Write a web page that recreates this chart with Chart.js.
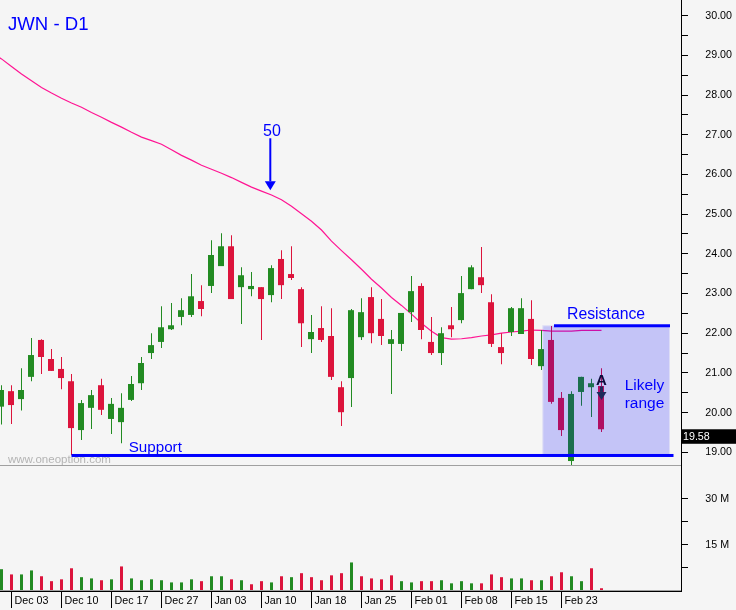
<!DOCTYPE html>
<html lang="en">
<head>
    <meta charset="UTF-8">
    <title>JWN - D1</title>
    <script src="https://cdn.jsdelivr.net/npm/chart.js"></script>
    <style>
        html, body { margin: 0; padding: 0; background: #f5f5f5; }
        canvas { display: block; }
    </style>
</head>
<body>
<canvas id="priceChart" width="736" height="610"></canvas>

<script>
    const opens = [20.15, 20.54, 20.34, 20.90, 21.83, 21.35, 21.10, 20.79, 19.56, 20.12, 20.69, 19.84, 19.76, 20.32, 20.74, 21.50, 21.78, 22.10, 22.41, 22.46, 22.81,
        23.19, 23.69, 24.19, 23.16, 23.11, 23.16, 22.96, 23.87, 23.49, 23.11, 21.85, 22.13, 21.93, 20.64, 20.87, 21.90, 22.91, 22.36, 21.73,
        21.73, 22.53, 23.19, 21.78, 21.50, 22.20, 22.33, 23.11, 23.41, 22.78, 21.65, 22.03, 21.98, 22.36, 21.17, 21.83, 20.37, 18.78, 20.52, 20.64, 20.67];
    const highs = [20.69, 20.69, 21.12, 21.88, 21.85, 21.60, 21.40, 20.97, 20.32, 20.57, 20.85, 20.37, 20.49, 20.92, 21.40, 22.00, 22.68, 22.76, 22.88, 23.49, 23.21,
        24.34, 24.52, 24.47, 23.66, 23.54, 23.16, 23.71, 24.09, 24.19, 23.16, 22.46, 22.68, 22.63, 20.79, 22.61, 22.88, 23.16, 22.86, 22.08,
        22.51, 23.44, 23.26, 22.41, 22.15, 22.66, 23.44, 23.71, 24.17, 22.98, 22.00, 22.66, 22.88, 22.83, 22.08, 22.18, 20.52, 20.54, 20.90, 20.85, 21.12];
    const lows = [19.70, 19.71, 20.05, 20.79, 20.97, 21.05, 20.59, 18.93, 19.31, 19.59, 19.94, 19.46, 19.23, 20.29, 20.57, 21.35, 21.63, 22.08, 22.20, 22.41, 22.43,
        23.01, 23.69, 22.86, 22.23, 22.93, 21.83, 22.78, 22.86, 23.34, 21.65, 21.50, 21.78, 20.82, 19.66, 20.14, 21.83, 21.75, 21.70, 20.47,
        21.55, 22.28, 21.85, 21.45, 21.20, 21.90, 22.25, 23.11, 23.01, 21.65, 21.22, 21.93, 21.98, 21.20, 21.07, 20.22, 19.41, 18.66, 20.17, 19.89, 19.51];
    const closes = [20.57, 20.19, 20.57, 21.45, 21.40, 21.05, 20.87, 19.61, 20.24, 20.44, 20.07, 20.22, 20.12, 20.72, 21.25, 21.70, 22.15, 22.20, 22.58, 22.93, 22.61,
        23.97, 24.19, 22.86, 23.46, 23.19, 22.86, 23.64, 23.21, 23.39, 22.25, 22.03, 21.83, 20.90, 20.01, 22.58, 22.53, 22.00, 21.93, 21.85,
        22.51, 23.06, 22.08, 21.50, 22.00, 22.10, 23.01, 23.66, 23.21, 21.73, 21.50, 22.63, 22.63, 21.35, 21.60, 20.27, 19.56, 20.47, 20.90, 20.74, 19.58];

    // first value sits one bar left of the first candle, so the line runs off the edge
    const ma50 = [29.07, 28.91, 28.72, 28.53, 28.36, 28.19, 28.05, 27.92, 27.80, 27.69, 27.56, 27.44, 27.31, 27.19, 27.06, 26.94, 26.85, 26.76, 26.62, 26.48, 26.36, 26.23,
        26.13, 26.03, 25.92, 25.80, 25.68, 25.58, 25.48, 25.36, 25.20, 25.01, 24.82, 24.60, 24.32, 24.08, 23.85, 23.61, 23.36, 23.14, 22.90,
        22.70, 22.48, 22.25, 22.05, 21.89, 21.85, 21.86, 21.89, 21.93, 21.96, 22.00, 22.03, 22.05, 22.08, 22.07, 22.05, 22.05, 22.05, 22.07, 22.07, 22.07];

    const volumes = [7.1, 5.4, 5.4, 6.7, 4.8, 3.2, 3.8, 7.4, 4.5, 4.1, 3.5, 3.8, 8.0, 4.1, 3.5, 3.8, 3.5, 2.8, 2.8, 3.8, 3.2,
        4.8, 4.8, 3.8, 3.5, 2.2, 3.2, 2.8, 4.8, 4.5, 5.8, 4.5, 3.5, 5.1, 5.8, 9.3, 4.8, 4.1, 3.8, 5.1,
        3.2, 2.8, 3.2, 3.2, 3.5, 2.5, 3.2, 2.5, 2.5, 5.4, 4.5, 4.1, 4.1, 3.5, 3.5, 4.8, 6.1, 4.8, 3.2, 7.4, 0.9];
    // 1 = up volume, 0 = down volume
    const volumeUp = [1, 0, 1, 1, 0, 0, 0, 0, 1, 1, 0, 1, 0, 1, 1, 1, 1, 1, 1, 1, 0,
        1, 1, 0, 1, 0, 0, 1, 0, 1, 0, 0, 0, 0, 0, 1, 0, 0, 0, 0,
        1, 1, 0, 0, 1, 1, 1, 1, 0, 0, 0, 1, 1, 0, 1, 0, 0, 1, 1, 0, 0];

    const dateTickBars = [1, 6, 11, 16, 21, 26, 31, 36, 41, 46, 51, 56];
    const dateTickLabels = ['Dec 03', 'Dec 10', 'Dec 17', 'Dec 27', 'Jan 03', 'Jan 10', 'Jan 18', 'Jan 25', 'Feb 01', 'Feb 08', 'Feb 15', 'Feb 23'];
    const priceTicks = [30, 29.5, 29, 28.5, 28, 27.5, 27, 26.5, 26, 25.5, 25, 24.5, 24, 23.5, 23, 22.5, 22, 21.5, 21, 20.5, 20, 19.5, 19];
    const volumeTicks = [30, 22.5, 15, 7.5];

    const supportPrice = 18.92;
    const supportBars = [7, 67.2];
    const resistancePrice = 22.2;
    const resistanceBars = [55.25, 66.85];
    const rangeBars = [54.08, 66.85];
    const rangePrices = [18.93, 22.2];

    const RED = '#dc143c';
    const GREEN = '#228b22';
    const BLUE = '#0000ff';
    const FONT = '"Liberation Sans", Arial, sans-serif';

    const bars = closes.map((c, i) => i);

    function noPadding(scale) {
        scale.paddingTop = 0;
        scale.paddingBottom = 0;
        scale.paddingLeft = 0;
        scale.paddingRight = 0;
    }

    function arrowDown(ctx, x, yTop, yBottom, head, shaft, color) {
        ctx.strokeStyle = color;
        ctx.fillStyle = color;
        ctx.lineWidth = shaft;
        ctx.beginPath();
        ctx.moveTo(x, yTop);
        ctx.lineTo(x, yBottom - head);
        ctx.stroke();
        ctx.beginPath();
        ctx.moveTo(x - head / 2 - 1, yBottom - head);
        ctx.lineTo(x + head / 2 + 1, yBottom - head);
        ctx.lineTo(x, yBottom);
        ctx.closePath();
        ctx.fill();
    }

    function text(ctx, str, x, y, font, color, align) {
        ctx.font = font;
        ctx.fillStyle = color;
        ctx.textAlign = align || 'left';
        ctx.textBaseline = 'alphabetic';
        ctx.fillText(str, x, y);
    }

    // panel lines, range box, support/resistance and the notes on the chart
    const notes = {
        id: 'notes',
        afterDatasetsDraw(chart) {
            const ctx = chart.ctx;
            const px = v => chart.scales.x.getPixelForValue(v);
            const py = v => chart.scales.price.getPixelForValue(v);
            const area = chart.chartArea;
            ctx.save();

            ctx.fillStyle = '#a0a0a0';
            ctx.fillRect(0, chart.scales.price.bottom - 1, area.right, 1);
            ctx.fillRect(0, area.bottom - 1, area.right, 1);

            text(ctx, 'www.oneoption.com', 8, 463, '11.5px ' + FONT, '#b4b4b4');

            const boxX = px(rangeBars[0]), boxY = py(rangePrices[1]);
            const boxW = px(rangeBars[1]) - boxX, boxH = py(rangePrices[0]) - boxY;
            ctx.fillStyle = 'rgba(0, 0, 255, 0.2)';
            ctx.fillRect(boxX + 1, boxY + 1, boxW - 2, boxH - 2);
            ctx.fillStyle = 'rgba(0, 0, 255, 0.1)';
            ctx.fillRect(boxX, boxY, boxW, 1);
            ctx.fillRect(boxX, boxY + 1, 1, boxH - 1);
            ctx.fillRect(boxX + boxW - 1, boxY + 1, 1, boxH - 1);

            ctx.fillStyle = BLUE;
            ctx.fillRect(px(supportBars[0]), py(supportPrice) - 1.5, px(supportBars[1]) - px(supportBars[0]), 3);
            ctx.fillRect(px(resistanceBars[0]), py(resistancePrice) - 1, px(resistanceBars[1]) - px(resistanceBars[0]), 3);

            text(ctx, 'JWN - D1', 8, 30, '18.6px ' + FONT, BLUE);
            text(ctx, 'Support', px(12.72), py(19.015), '15.2px ' + FONT, BLUE);
            text(ctx, 'Resistance', px(56.55), py(22.355), '15.8px ' + FONT, BLUE);
            text(ctx, 'Likely', px(64.3), py(20.56), '15.5px ' + FONT, BLUE, 'center');
            text(ctx, 'range', px(64.3), py(20.12), '15.5px ' + FONT, BLUE, 'center');

            text(ctx, '50', px(27.05), py(26.96), '16px ' + FONT, BLUE, 'center');
            arrowDown(ctx, px(26.88), py(26.91), py(25.6), 9, 2, BLUE);

            text(ctx, 'A', px(60), py(20.69), 'bold 15px ' + FONT, '#0b0b3c', 'center');
            arrowDown(ctx, px(60), py(20.66), py(20.32), 8, 3, '#1c2a5c');

            const lastClose = closes[closes.length - 1];
            ctx.fillStyle = '#000';
            ctx.fillRect(area.right + 1, py(lastClose), 54, 14.5);
            text(ctx, lastClose.toFixed(2), area.right + 2, py(lastClose) + 11, '10.7px ' + FONT, '#fff');

            ctx.restore();
        }
    };

    new Chart(document.getElementById('priceChart'), {
        type: 'bar',
        data: {
            datasets: [
                {
                    label: 'MA 50',
                    type: 'line',
                    data: ma50.map((v, k) => ({ x: k - 1, y: v })),
                    xAxisID: 'x',
                    yAxisID: 'price',
                    borderColor: '#ff1493',
                    borderWidth: 1.2,
                    pointRadius: 0,
                    tension: 0,
                    order: 4
                },
                {
                    label: 'Range',
                    data: bars.map(i => ({ x: i, y: [lows[i], highs[i]] })),
                    xAxisID: 'x',
                    yAxisID: 'price',
                    backgroundColor: bars.map(i => closes[i] >= opens[i] ? GREEN : RED),
                    barThickness: 1,
                    grouped: false,
                    inflateAmount: 0,
                    order: 2
                },
                {
                    label: 'Body',
                    data: bars.map(i => ({ x: i, y: [opens[i], closes[i]] })),
                    xAxisID: 'xBody',
                    yAxisID: 'price',
                    backgroundColor: bars.map(i => closes[i] >= opens[i] ? GREEN : RED),
                    barThickness: 6,
                    grouped: false,
                    inflateAmount: 0,
                    order: 1
                },
                {
                    label: 'Volume',
                    data: bars.map(i => ({ x: i, y: volumes[i] })),
                    xAxisID: 'x',
                    yAxisID: 'volume',
                    backgroundColor: bars.map(i => volumeUp[i] ? GREEN : RED),
                    barThickness: 3,
                    grouped: false,
                    inflateAmount: 0,
                    order: 3
                }
            ]
        },
        options: {
            responsive: false,
            animation: false,
            layout: { padding: { right: 4 }, autoPadding: false },
            plugins: { legend: { display: false }, tooltip: { enabled: false } },
            scales: {
                x: {
                    type: 'linear',
                    min: -0.15,
                    max: 67.95,
                    offset: false,
                    position: 'bottom',
                    border: { color: '#000' },
                    grid: { offset: false, drawOnChartArea: false, tickLength: 17, tickColor: '#000' },
                    afterBuildTicks: scale => { scale.ticks = dateTickBars.map(value => ({ value })); },
                    afterFit: scale => { scale.height = 19; noPadding(scale); },
                    ticks: {
                        autoSkip: false,
                        maxRotation: 0,
                        align: 'start',
                        padding: -13,
                        color: '#000',
                        font: { family: FONT, size: 10.7 },
                        callback: value => '\u00a0' + dateTickLabels[dateTickBars.indexOf(value)]
                    }
                },
                xBody: {
                    type: 'linear',
                    min: -0.1,
                    max: 68,
                    offset: false,
                    display: false
                },
                price: {
                    type: 'linear',
                    position: 'right',
                    stack: 'panels',
                    stackWeight: 466,
                    min: 18.655,
                    max: 30.393,
                    border: { color: '#000' },
                    grid: { drawOnChartArea: false, tickLength: 7, tickColor: '#000' },
                    afterBuildTicks: scale => { scale.ticks = priceTicks.map(value => ({ value })); },
                    afterFit: scale => { scale.width = 51; noPadding(scale); },
                    ticks: {
                        autoSkip: false,
                        crossAlign: 'far',
                        color: '#000',
                        font: { family: FONT, size: 10.7 },
                        callback: value => Number.isInteger(value) ? value.toFixed(2) : ''
                    }
                },
                volume: {
                    type: 'linear',
                    position: 'right',
                    stack: 'panels',
                    stackWeight: 125,
                    min: 0,
                    max: 40.7,
                    border: { color: '#000' },
                    grid: { drawOnChartArea: false, tickLength: 7, tickColor: '#000' },
                    afterBuildTicks: scale => { scale.ticks = volumeTicks.map(value => ({ value })); },
                    afterFit: scale => { scale.width = 51; noPadding(scale); },
                    ticks: {
                        autoSkip: false,
                        crossAlign: 'far',
                        color: '#000',
                        font: { family: FONT, size: 10.7 },
                        callback: value => Number.isInteger(value) ? value + ' M\u00a0' : ''
                    }
                }
            }
        },
        plugins: [notes]
    });
</script>
</body>
</html>
